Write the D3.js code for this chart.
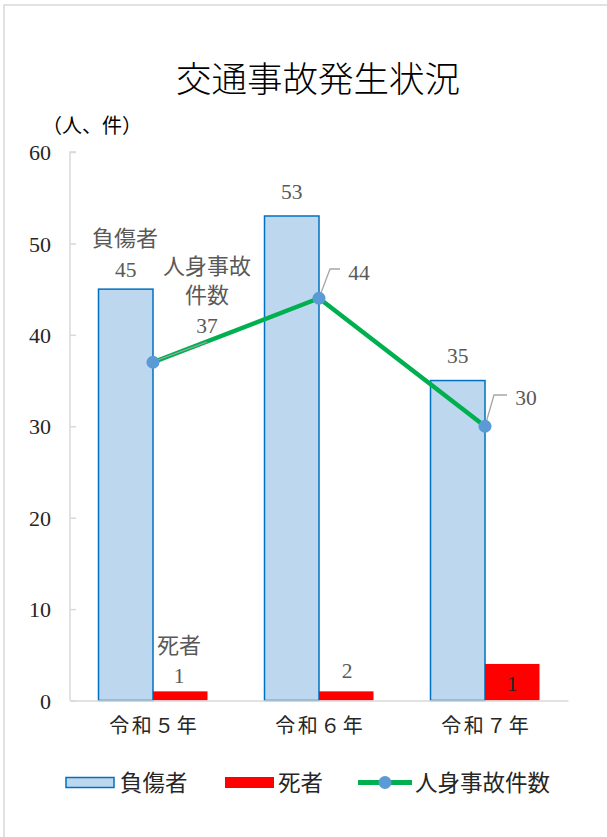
<!DOCTYPE html>
<html><head><meta charset="utf-8">
<script src="https://cdn.jsdelivr.net/npm/d3@7/dist/d3.min.js"></script>
<style>
html,body{margin:0;padding:0;background:#fff;}
svg{display:block;font-family:"Liberation Serif","Noto Sans CJK JP",serif;}
</style></head>
<body>
<script>
const categories = ["令和５年", "令和６年", "令和７年"];
const injured = [45, 53, 35];
const deathBars = [1, 1, 4];
const deathLabels = ["1", "2", "1"];
const accidents = [37, 44, 30];
const yTicks = [0, 10, 20, 30, 40, 50, 60];
const seriesNames = ["負傷者", "死者", "人身事故件数"];
const title = "交通事故発生状況";
const unitLabel = "（人、件）";

const W = 607, H = 837;
const svg = d3.select("body").append("svg").attr("width", W).attr("height", H);

// frame
svg.append("rect").attr("x", 4).attr("y", 5).attr("width", W + 10).attr("height", H + 10)
  .attr("fill", "#fff").attr("stroke", "#d9d9d9").attr("stroke-width", 1.5);

const plot = {left: 70, right: 568, top: 152, bottom: 700.5};
const x = d3.scaleBand().domain(categories).range([plot.left, plot.right]).paddingInner(0).paddingOuter(0);
const y = d3.scaleLinear().domain([0, 60]).range([plot.bottom, plot.top]);
const barW = 54.5;

// title
svg.append("text").attr("x", 318).attr("y", 92).attr("text-anchor", "middle")
  .attr("font-size", 35.5).attr("fill", "#000").attr("font-family", "Noto Sans CJK JP")
  .attr("font-weight", 300).text(title);
svg.append("text").attr("x", 42).attr("y", 133).attr("font-size", 20).attr("fill", "#000")
  .attr("font-family", "Noto Sans CJK JP").text(unitLabel);

// y axis
const yAxis = d3.axisRight(y).tickValues(yTicks).tickSize(6).tickFormat(d3.format("d"));
const ga = svg.append("g").attr("transform", `translate(${plot.left},0)`).call(yAxis)
  .attr("font-family", null);
ga.select(".domain").attr("stroke", "#d9d9d9").attr("stroke-width", 1.5).attr("d", `M6,${plot.top}H0V${plot.bottom}`);
ga.selectAll(".tick line").attr("stroke", "#d9d9d9").attr("stroke-width", 1.5);
ga.selectAll(".tick text").attr("x", -19).attr("text-anchor", "end").attr("dy", "0.35em")
  .attr("font-size", 22).attr("fill", "#262626").attr("font-family", "Liberation Serif");

// bars
const cx = d => x(d) + x.bandwidth() / 2;
svg.append("g").selectAll("rect").data(categories).join("rect")
  .attr("x", d => cx(d) - barW).attr("width", barW)
  .attr("y", (d, i) => y(injured[i])).attr("height", (d, i) => y(0) - y(injured[i]))
  .attr("fill", "#bdd7ee").attr("stroke", "#0070c0").attr("stroke-width", 1.5);
svg.append("g").selectAll("rect").data(categories).join("rect")
  .attr("x", d => cx(d)).attr("width", barW)
  .attr("y", (d, i) => y(deathBars[i])).attr("height", (d, i) => y(0) - y(deathBars[i]))
  .attr("fill", "#ff0000");

// x axis
const gx = svg.append("g").attr("transform", `translate(0,${plot.bottom})`)
  .call(d3.axisBottom(x).tickSize(0).tickPadding(18)).attr("font-family", null);
gx.select(".domain").attr("stroke", "#d9d9d9").attr("stroke-width", 1.5);
gx.selectAll(".tick text").attr("font-size", 20).attr("fill", "#262626")
  .attr("font-family", "Noto Sans CJK JP").attr("letter-spacing", 2.5).attr("dx", 1.2);

// line
const line = d3.line().x((d, i) => cx(categories[i])).y(d => y(d));
svg.append("path").datum(accidents).attr("d", line).attr("fill", "none")
  .attr("stroke", "#00b050").attr("stroke-width", 4.5).attr("stroke-linejoin", "round");

// leader lines
const lab = "#595959";
const leaders = [
  [[cx(categories[0]) + 4, y(accidents[0]) - 2], [207, 342]],
  [[cx(categories[1]), y(accidents[1])], [330, 269], [340, 269]],
  [[cx(categories[2]), y(accidents[2])], [494, 395], [507, 395]]
];
svg.append("g").selectAll("path").data(leaders).join("path")
  .attr("d", d => d3.line()(d)).attr("fill", "none").attr("stroke", "#a6a6a6").attr("stroke-width", 1.3);

svg.append("g").selectAll("circle").data(accidents).join("circle")
  .attr("cx", (d, i) => cx(categories[i])).attr("cy", d => y(d)).attr("r", 6.5)
  .attr("fill", "#5b9bd5");

// data labels
const t = (xx, yy, s, fam, fs) => svg.append("text").attr("x", xx).attr("y", yy).attr("text-anchor", "middle")
  .attr("dy", "0.35em").attr("font-size", fs || 21.5).attr("fill", lab)
  .attr("font-family", fam || "Liberation Serif").text(s);
const jp = "Noto Sans CJK JP";
// injured
t(125, 238, seriesNames[0], jp, 22);
injured.forEach((v, i) => t(cx(categories[i]) - barW / 2, y(v) - (i === 0 ? 20 : 25), v));
// accidents
t(207, 266, "人身事故", jp, 22);
t(207, 295, "件数", jp, 22);
t(207, 325, accidents[0]);
t(359, 272, accidents[1]);
t(526, 397, accidents[2]);
// deaths
t(179, 645, seriesNames[1], jp, 22);
t(179, 675, deathLabels[0]);
t(347, 670, deathLabels[1]);
t(512, 683, deathLabels[2]).attr("fill", "#262626");

// legend
const lg = svg.append("g");
lg.append("rect").attr("x", 66).attr("y", 777.5).attr("width", 48).attr("height", 10)
  .attr("fill", "#bdd7ee").attr("stroke", "#0070c0").attr("stroke-width", 1.5);
lg.append("rect").attr("x", 225).attr("y", 777).attr("width", 49).attr("height", 11).attr("fill", "#ff0000");
lg.append("line").attr("x1", 358).attr("x2", 412).attr("y1", 782.5).attr("y2", 782.5)
  .attr("stroke", "#00b050").attr("stroke-width", 5);
lg.append("circle").attr("cx", 385).attr("cy", 782.5).attr("r", 6.5).attr("fill", "#5b9bd5");
[[120, 0], [278, 1], [415, 2]].forEach(([xx, i]) =>
  lg.append("text").attr("x", xx).attr("y", 783).attr("dy", "0.35em").attr("font-size", 22.5)
    .attr("fill", "#262626").attr("font-family", jp).text(seriesNames[i]));
</script>
</body></html>
